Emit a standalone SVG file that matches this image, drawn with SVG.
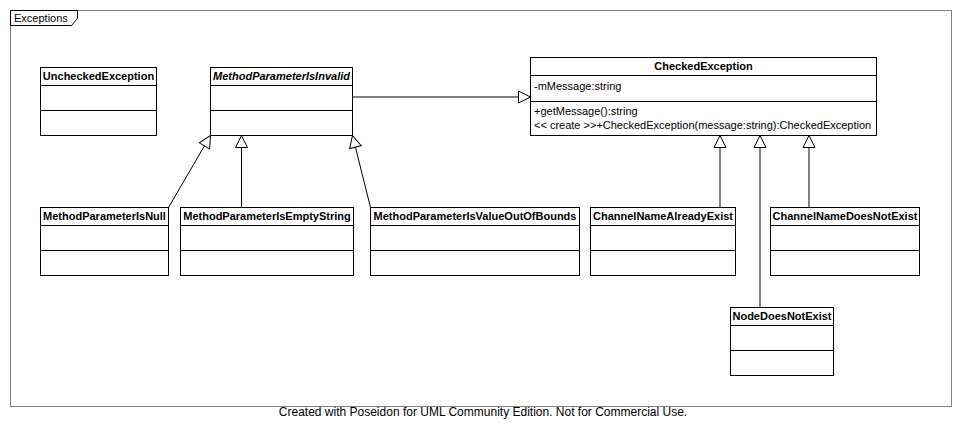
<svg xmlns="http://www.w3.org/2000/svg" width="961" height="436" viewBox="0 0 961 436">
  <style>
    .frame { fill: none; stroke: #808080; stroke-width: 1; }
    .tab { fill: #ffffff; stroke: #000000; stroke-width: 1; }
    .box { fill: #ffffff; stroke: #000000; stroke-width: 1; }
    .div { stroke: #000000; stroke-width: 1; }
    .name { font-family: "Liberation Sans", Arial, sans-serif; font-size: 11px; font-weight: bold; text-anchor: middle; fill: #000000; }
    .abstract { font-style: italic; }
    .member { font-family: "Liberation Sans", Arial, sans-serif; font-size: 11px; fill: #000000; }
    .label { font-family: "Liberation Sans", Arial, sans-serif; font-size: 11px; fill: #000000; }
    .footer { font-family: "Liberation Sans", Arial, sans-serif; font-size: 12px; text-anchor: middle; fill: #000000; }
    .gen-black { fill: none; stroke: #000000; stroke-width: 1; marker-end: url(#hollow); }
    .gen-grey { fill: none; stroke: #808080; stroke-width: 2; marker-end: url(#hollow); }
  </style>
  <defs>
    <!-- hollow triangle for generalization -->
    <marker id="hollow" markerUnits="userSpaceOnUse" markerWidth="16" markerHeight="16" refX="12.5" refY="7" orient="auto" overflow="visible">
      <path d="M0.5,1 L12.5,7 L0.5,13 Z" fill="#ffffff" stroke="#000000" stroke-width="1"/>
    </marker>
  </defs>

  <rect x="0" y="0" width="961" height="436" fill="#ffffff"/>

  <!-- package frame -->
  <g id="package-exceptions">
    <rect class="frame" x="10.5" y="10.5" width="941" height="396"/>
    <path class="tab" d="M10.5,10.5 H77.5 V18.5 L71.5,25.5 H10.5 Z"/>
    <text class="label" x="14" y="22">Exceptions</text>
  </g>

  <!-- connectors -->
  <g id="connectors">
    <path class="gen-black" d="M168.5,207.5 L210.5,135.5"/>
    <path class="gen-black" d="M241.5,207.5 L241.5,135.5"/>
    <path class="gen-black" d="M370.5,207.5 L352.5,135.5"/>
    <path class="gen-grey" d="M352.5,97 L530.5,97"/>
    <path class="gen-grey" d="M720,207.5 L720,135.5"/>
    <path class="gen-grey" d="M760,307.5 L760,135.5"/>
    <path class="gen-grey" d="M809,207.5 L809,135.5"/>
  </g>

  <g id="UncheckedException">
    <rect class="box" x="40.5" y="67.5" width="116" height="68"/>
    <line class="div" x1="40.5" y1="85.5" x2="156.5" y2="85.5"/>
    <line class="div" x1="40.5" y1="110.5" x2="156.5" y2="110.5"/>
    <text class="name" x="98.5" y="80">UncheckedException</text>
  </g>

  <g id="MethodParameterIsInvalid">
    <rect class="box" x="210.5" y="67.5" width="142" height="68"/>
    <line class="div" x1="210.5" y1="85.5" x2="352.5" y2="85.5"/>
    <line class="div" x1="210.5" y1="110.5" x2="352.5" y2="110.5"/>
    <text class="name abstract" x="281.5" y="80">MethodParameterIsInvalid</text>
  </g>

  <g id="CheckedException">
    <rect class="box" x="530.5" y="57.5" width="346" height="78"/>
    <line class="div" x1="530.5" y1="75.5" x2="876.5" y2="75.5"/>
    <line class="div" x1="530.5" y1="101.5" x2="876.5" y2="101.5"/>
    <text class="name" x="703.5" y="70">CheckedException</text>
    <text class="member" x="534" y="89.5">-mMessage:string</text>
    <text class="member" x="534" y="114.5">+getMessage():string</text>
    <text class="member" x="534" y="128.5">&lt;&lt; create &gt;&gt;+CheckedException(message:string):CheckedException</text>
  </g>

  <g id="MethodParameterIsNull">
    <rect class="box" x="40.5" y="207.5" width="128" height="68"/>
    <line class="div" x1="40.5" y1="225.5" x2="168.5" y2="225.5"/>
    <line class="div" x1="40.5" y1="250.5" x2="168.5" y2="250.5"/>
    <text class="name" x="104.5" y="220">MethodParameterIsNull</text>
  </g>

  <g id="MethodParameterIsEmptyString">
    <rect class="box" x="180.5" y="207.5" width="173" height="68"/>
    <line class="div" x1="180.5" y1="225.5" x2="353.5" y2="225.5"/>
    <line class="div" x1="180.5" y1="250.5" x2="353.5" y2="250.5"/>
    <text class="name" x="267" y="220">MethodParameterIsEmptyString</text>
  </g>

  <g id="MethodParameterIsValueOutOfBounds">
    <rect class="box" x="370.5" y="207.5" width="209" height="68"/>
    <line class="div" x1="370.5" y1="225.5" x2="579.5" y2="225.5"/>
    <line class="div" x1="370.5" y1="250.5" x2="579.5" y2="250.5"/>
    <text class="name" x="475" y="220">MethodParameterIsValueOutOfBounds</text>
  </g>

  <g id="ChannelNameAlreadyExist">
    <rect class="box" x="590.5" y="207.5" width="145" height="68"/>
    <line class="div" x1="590.5" y1="225.5" x2="735.5" y2="225.5"/>
    <line class="div" x1="590.5" y1="250.5" x2="735.5" y2="250.5"/>
    <text class="name" x="663" y="220">ChannelNameAlreadyExist</text>
  </g>

  <g id="ChannelNameDoesNotExist">
    <rect class="box" x="770.5" y="207.5" width="149" height="68"/>
    <line class="div" x1="770.5" y1="225.5" x2="919.5" y2="225.5"/>
    <line class="div" x1="770.5" y1="250.5" x2="919.5" y2="250.5"/>
    <text class="name" x="845" y="220">ChannelNameDoesNotExist</text>
  </g>

  <g id="NodeDoesNotExist">
    <rect class="box" x="730.5" y="307.5" width="103" height="68"/>
    <line class="div" x1="730.5" y1="325.5" x2="833.5" y2="325.5"/>
    <line class="div" x1="730.5" y1="350.5" x2="833.5" y2="350.5"/>
    <text class="name" x="782" y="320">NodeDoesNotExist</text>
  </g>

  <text class="footer" x="483" y="416">Created with Poseidon for UML Community Edition. Not for Commercial Use.</text>
</svg>
